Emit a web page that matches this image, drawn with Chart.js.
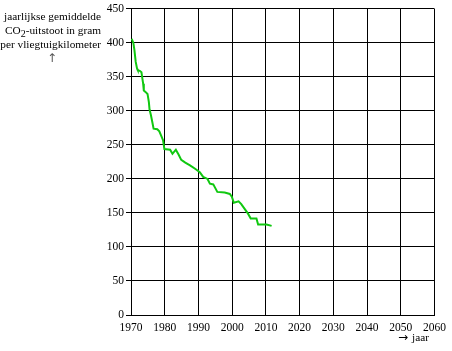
<!DOCTYPE html>
<html>
<head>
<meta charset="utf-8">
<script src="https://cdn.jsdelivr.net/npm/chart.js@4.4.0/dist/chart.umd.min.js"></script>
<style>
  html, body { margin: 0; padding: 0; background: #fff; }
  #wrap { width: 452px; height: 351px; position: relative; }
</style>
</head>
<body>
<div id="wrap"><canvas id="chart" width="452" height="351"></canvas></div>
<script>
// jaar (x) en uitstoot in gram per vliegtuigkilometer (y)
var years = [1970.2, 1970.7, 1971.0, 1971.4, 1971.8, 1972.0, 1972.6, 1973.1, 1973.3, 1973.6,
             1973.8, 1974.3, 1974.9, 1975.3, 1975.5, 1975.9, 1976.3, 1976.7, 1977.8, 1978.4,
             1979.0, 1979.5, 1979.9, 1981.6, 1982.3, 1983.3, 1984.1, 1984.9, 1986.1, 1987.5,
             1989.0, 1990.4, 1991.4, 1992.7, 1993.4, 1994.4, 1995.6, 1997.8, 1999.3, 1999.9,
             2000.5, 2001.9, 2002.7, 2003.7, 2004.7, 2005.5, 2007.2, 2007.7, 2010.2, 2011.7];
var emission = [406, 400, 390, 372, 362, 360, 359, 357, 350, 340,
                330, 328, 325, 313, 302, 294, 284, 274, 273, 270,
                263, 257, 244, 243, 237, 243, 236, 228, 224, 220,
                215, 210, 203, 200, 193, 192, 181, 180, 178, 174,
                165, 167, 163, 156, 149, 142, 142, 133, 133, 131];

var xTicks = [1970, 1980, 1990, 2000, 2010, 2020, 2030, 2040, 2050, 2060];
var yTicks = [0, 50, 100, 150, 200, 250, 300, 350, 400, 450];

var yTitle = ['jaarlijkse gemiddelde', 'CO\u2082-uitstoot in gram', 'per vliegtuigkilometer'];
var xTitle = 'jaar';

var points = [];
for (var i = 0; i < years.length; i++) {
    points.push({ x: years[i], y: emission[i] });
}

var serif = '"Liberation Serif", "Times New Roman", serif';

var labelsPlugin = {
    id: 'axisLabels',
    afterDraw: function(chart) {
        var ctx = chart.ctx;
        ctx.save();
        ctx.fillStyle = '#000';
        ctx.font = '11.3px ' + serif;
        ctx.textAlign = 'right';
        ctx.textBaseline = 'alphabetic';
        ctx.fillText(yTitle[0], 101, 20);
        ctx.fillText(yTitle[2], 101, 47.5);
        // CO2 met subscript
        var parts = yTitle[1].split('\u2082');
        var rest = parts[1];
        var wRest = ctx.measureText(rest).width;
        ctx.fillText(rest, 101, 34);
        var xSub = 101 - wRest;
        ctx.font = '10px ' + serif;
        var w2 = ctx.measureText('2').width;
        ctx.fillText('2', xSub, 37);
        ctx.font = '11.3px ' + serif;
        ctx.fillText(parts[0], xSub - w2, 34);
        // pijlen
        ctx.font = '12px "DejaVu Sans", sans-serif';
        ctx.textAlign = 'center';
        ctx.fillStyle = '#555';
        ctx.fillText('\u2191', 52, 62);
        ctx.fillStyle = '#000';
        ctx.textAlign = 'left';
        ctx.fillText('\u2192', 398, 341);
        ctx.font = '11.3px ' + serif;
        ctx.fillText(xTitle, 412, 341);
        ctx.restore();
    }
};

new Chart(document.getElementById('chart').getContext('2d'), {
    type: 'scatter',
    data: {
        datasets: [{
            data: points,
            showLine: true,
            borderColor: '#10c810',
            borderWidth: 2,
            pointRadius: 0,
            fill: false,
            tension: 0
        }]
    },
    options: {
        responsive: false,
        animation: false,
        layout: { padding: { top: 6, right: 12, left: 0, bottom: 0 } },
        plugins: { legend: { display: false }, tooltip: { enabled: false } },
        scales: {
            x: {
                type: 'linear',
                min: 1970,
                max: 2060,
                afterBuildTicks: function(scale) {
                    scale.ticks = xTicks.map(function(v) { return { value: v }; });
                },
                afterFit: function(scale) { scale.height = 36; },
                grid: { color: '#000', lineWidth: 1, tickLength: 0 },
                border: { color: '#000', width: 1 },
                ticks: {
                    color: '#000',
                    font: { family: serif, size: 11.5 },
                    padding: 6,
                    maxRotation: 0,
                    callback: function(v) { return String(v); }
                }
            },
            y: {
                min: 0,
                max: 450,
                afterBuildTicks: function(scale) {
                    scale.ticks = yTicks.map(function(v) { return { value: v }; });
                },
                afterFit: function(scale) { scale.width = 131; },
                grid: { color: '#000', lineWidth: 1, tickLength: 5 },
                border: { color: '#000', width: 1 },
                ticks: {
                    color: '#000',
                    font: { family: serif, size: 11.5 },
                    padding: 2
                }
            }
        }
    },
    plugins: [labelsPlugin]
});
</script>
</body>
</html>
